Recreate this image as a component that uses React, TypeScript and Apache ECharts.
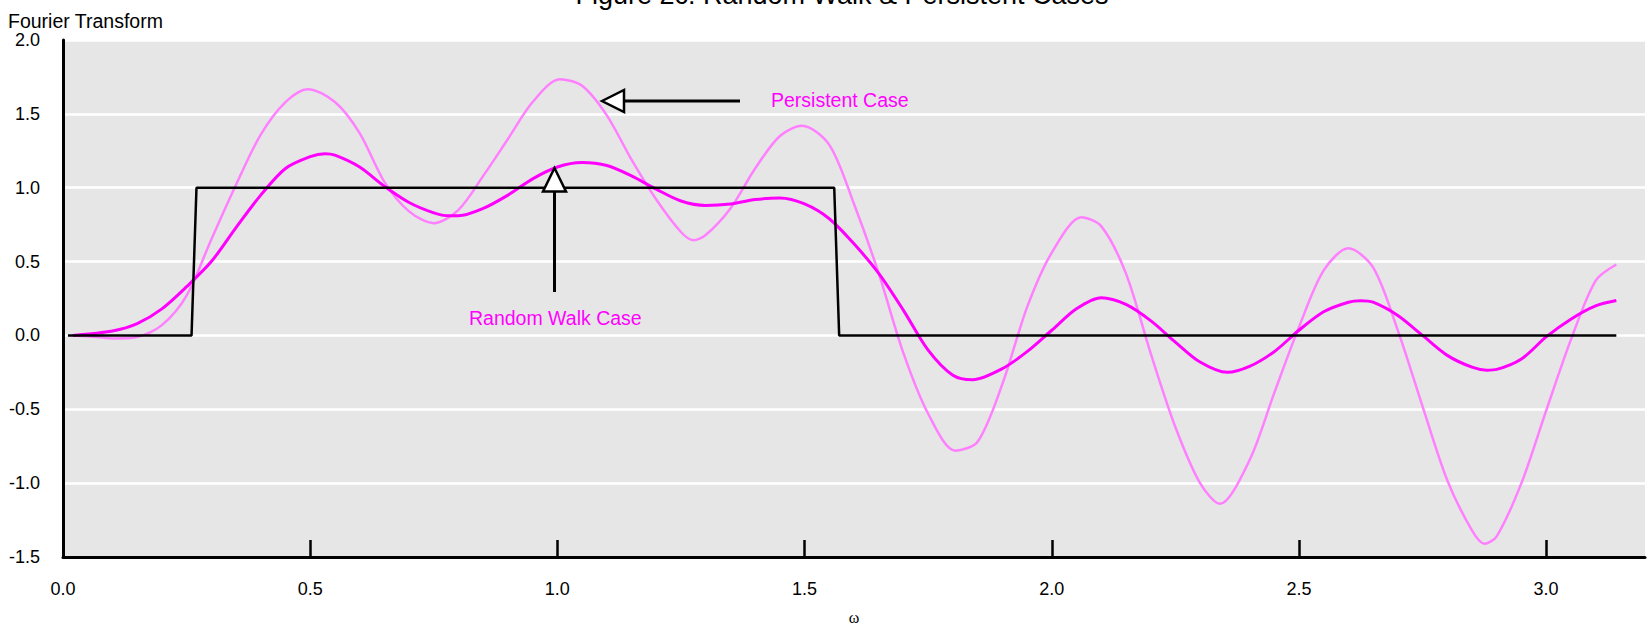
import React, { useEffect, useRef } from "react";
import * as echarts from "echarts";

// ---- data ----
const xTicks = [0, 0.5, 1.0, 1.5, 2.0, 2.5, 3.0];

const stepOmega = [0.01, 0.26, 0.27, 1.56, 1.57, 3.142];
const stepValue = [0, 0, 1, 1, 0, 0];

const rwOmega = [
  0.02, 0.1, 0.15, 0.2, 0.25, 0.3, 0.35, 0.4, 0.45, 0.5, 0.53, 0.55, 0.6, 0.65, 0.7, 0.75, 0.78, 0.8,
  0.85, 0.9, 0.95, 1.0, 1.05, 1.1, 1.15, 1.2, 1.25, 1.3, 1.35, 1.4, 1.45, 1.5, 1.55, 1.6, 1.65, 1.7,
  1.75, 1.8, 1.84, 1.9, 1.95, 2.0, 2.05, 2.1, 2.15, 2.2, 2.25, 2.3, 2.355, 2.4, 2.45, 2.5, 2.55, 2.6,
  2.625, 2.65, 2.7, 2.75, 2.8, 2.85, 2.88, 2.9, 2.95, 3.0, 3.05, 3.1, 3.142,
];
const rwValue = [
  0.0, 0.03, 0.08, 0.18, 0.33, 0.5, 0.73, 0.95, 1.13, 1.21, 1.23, 1.22, 1.14, 1.01, 0.9, 0.83, 0.81, 0.81,
  0.86, 0.95, 1.06, 1.14, 1.17, 1.15, 1.08, 0.99, 0.91, 0.88, 0.89, 0.92, 0.93, 0.89, 0.79, 0.62, 0.42, 0.17,
  -0.1, -0.27, -0.3, -0.225, -0.11, 0.035, 0.18, 0.255, 0.21, 0.1, -0.045, -0.18, -0.25, -0.21, -0.11, 0.035, 0.16, 0.225,
  0.235, 0.225, 0.135, 0.0, -0.135, -0.215, -0.235, -0.23, -0.16, -0.01, 0.11, 0.2, 0.236,
];

const pOmega = [
  0.02, 0.05, 0.1, 0.15, 0.2, 0.25, 0.3, 0.35, 0.4, 0.45, 0.495, 0.55, 0.6, 0.65, 0.7, 0.75, 0.8, 0.85,
  0.9, 0.95, 1.005, 1.05, 1.1, 1.15, 1.2, 1.25, 1.275, 1.3, 1.35, 1.4, 1.45, 1.495, 1.55, 1.6, 1.65, 1.7,
  1.75, 1.805, 1.85, 1.9, 1.95, 2.0, 2.06, 2.1, 2.15, 2.2, 2.25, 2.3, 2.34, 2.4, 2.45, 2.5, 2.55, 2.6,
  2.65, 2.7, 2.75, 2.8, 2.85, 2.875, 2.9, 2.95, 3.0, 3.05, 3.1, 3.142,
];
const pValue = [
  0.0, -0.005, -0.02, -0.01, 0.07, 0.27, 0.65, 1.02, 1.36, 1.58, 1.667, 1.58, 1.37, 1.04, 0.84, 0.76, 0.85, 1.08,
  1.33, 1.58, 1.735, 1.69, 1.49, 1.19, 0.92, 0.7, 0.645, 0.68, 0.86, 1.13, 1.35, 1.42, 1.29, 0.89, 0.42, -0.12,
  -0.53, -0.78, -0.72, -0.33, 0.19, 0.56, 0.8, 0.74, 0.42, -0.12, -0.62, -1.0, -1.14, -0.845, -0.39, 0.056, 0.44, 0.59,
  0.46, 0.034, -0.48, -0.98, -1.32, -1.41, -1.36, -1.0, -0.51, -0.03, 0.37, 0.48,
];

const zip = (xs: number[], ys: number[]) => xs.map((x, i) => [x, ys[i]]);

const FONT = "Liberation Sans, Arial, Helvetica, sans-serif";

export default function App() {
  const ref = useRef<HTMLDivElement>(null);

  useEffect(() => {
    if (!ref.current) return;
    const chart = echarts.init(ref.current, null, { renderer: "svg" });
    chart.setOption({
      animation: false,
      backgroundColor: "#ffffff",
      textStyle: { fontFamily: FONT },
      grid: {
        left: 63,
        top: 40,
        right: 4,
        bottom: 80,
        show: true,
        backgroundColor: "#e6e6e6",
        borderWidth: 0,
      },
      xAxis: {
        type: "value",
        min: 0,
        max: 3.2,
        interval: 0.5,
        name: "ω",
        nameLocation: "middle",
        nameGap: 52,
        nameTextStyle: { fontFamily: "Liberation Serif, Times New Roman, serif", fontSize: 16, color: "#000" },
        axisLine: { show: true, onZero: false, lineStyle: { color: "#000", width: 3 } },
        axisTick: {
          show: true,
          inside: true,
          length: 17,
          customValues: xTicks.slice(1),
          lineStyle: { color: "#000", width: 2.5 },
        },
        axisLabel: {
          customValues: xTicks,
          margin: 23,
          fontSize: 18,
          color: "#000",
          fontFamily: FONT,
          formatter: (v: number) => v.toFixed(1),
        },
        splitLine: { show: false },
      },
      yAxis: {
        type: "value",
        min: -1.5,
        max: 2.0,
        interval: 0.5,
        axisLine: { show: true, onZero: false, lineStyle: { color: "#000", width: 3 } },
        axisTick: { show: false },
        axisLabel: {
          margin: 23,
          fontSize: 18,
          color: "#000",
          fontFamily: FONT,
          formatter: (v: number) => v.toFixed(1),
        },
        splitLine: { show: true, lineStyle: { color: "#ffffff", width: 2.5 } },
      },
      series: [
        {
          name: "Persistent Case",
          type: "line",
          data: zip(pOmega, pValue),
          smooth: 0.3,
          showSymbol: false,
          lineStyle: { color: "#ff80ff", width: 2.5 },
          z: 2,
        },
        {
          name: "Random Walk Case",
          type: "line",
          data: zip(rwOmega, rwValue),
          smooth: 0.3,
          showSymbol: false,
          lineStyle: { color: "#ff00ff", width: 3 },
          z: 3,
        },
        {
          name: "Ideal Filter",
          type: "line",
          data: zip(stepOmega, stepValue),
          smooth: false,
          showSymbol: false,
          lineStyle: { color: "#000000", width: 2.5 },
          z: 4,
        },
      ],
      graphic: [
        {
          type: "text",
          left: 8,
          top: 11,
          style: { text: "Fourier Transform", fontSize: 19.5, fontFamily: FONT, fill: "#000" },
        },
        {
          type: "text",
          x: 842,
          y: -5,
          style: {
            text: "Figure 2c: Random Walk & Persistent Cases",
            fontSize: 27,
            fontFamily: FONT,
            fill: "#000",
            align: "center",
            verticalAlign: "middle",
          },
        },
        // Persistent case arrow
        {
          type: "line",
          shape: { x1: 740, y1: 101, x2: 623, y2: 101 },
          style: { stroke: "#000", lineWidth: 3 },
          z: 10,
        },
        {
          type: "polygon",
          shape: { points: [[602, 101], [624, 90], [624, 112]] },
          style: { fill: "#ffffff", stroke: "#000", lineWidth: 2.5 },
          z: 10,
        },
        {
          type: "text",
          x: 771,
          y: 100,
          style: {
            text: "Persistent Case",
            fontSize: 19.5,
            fontFamily: FONT,
            fill: "#ff00ff",
            verticalAlign: "middle",
          },
          z: 10,
        },
        // Random walk arrow
        {
          type: "line",
          shape: { x1: 554.5, y1: 292, x2: 554.5, y2: 191 },
          style: { stroke: "#000", lineWidth: 3 },
          z: 10,
        },
        {
          type: "polygon",
          shape: { points: [[554.5, 168], [543, 191.5], [566, 191.5]] },
          style: { fill: "#ffffff", stroke: "#000", lineWidth: 2.5 },
          z: 10,
        },
        {
          type: "text",
          x: 469,
          y: 318,
          style: {
            text: "Random Walk Case",
            fontSize: 19.5,
            fontFamily: FONT,
            fill: "#ff00ff",
            verticalAlign: "middle",
          },
          z: 10,
        },
      ],
    });
    return () => chart.dispose();
  }, []);

  return (
    <div
      ref={ref}
      style={{ position: "fixed", left: 0, top: 0, width: 1649, height: 637 }}
    />
  );
}
